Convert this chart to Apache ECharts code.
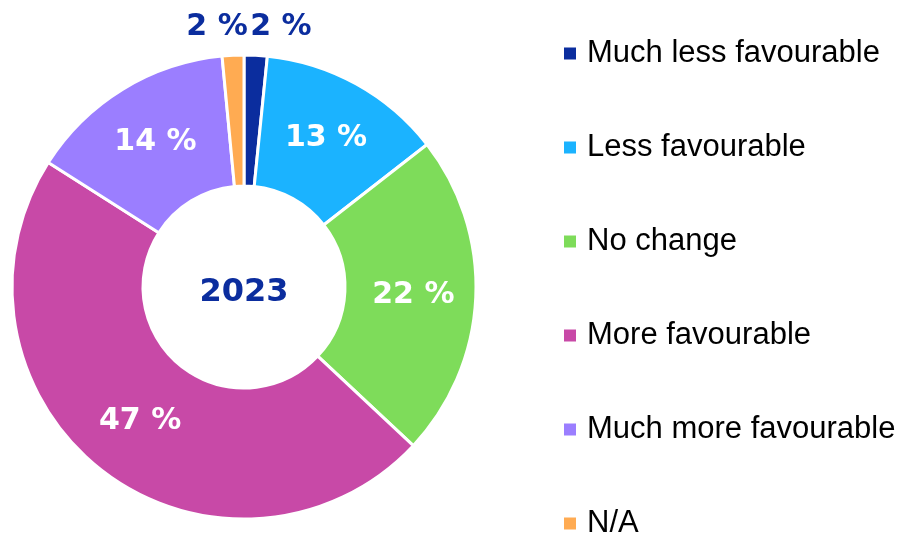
<!DOCTYPE html>
<html>
<head>
<meta charset="utf-8">
<script src="https://cdn.jsdelivr.net/npm/echarts@6/dist/echarts.min.js"></script>
<style>
  html, body { margin: 0; padding: 0; background: #fff; }
  #chart { width: 905px; height: 535px; }
</style>
</head>
<body>
<div id="chart"></div>
<script>
// 分类与数值（百分比，读自图）
const categories = ['Much less favourable', 'Less favourable', 'No change', 'More favourable', 'Much more favourable', 'N/A'];
const values = [1.6, 12.8, 22.4, 46.8, 14.4, 1.5];
const colors = ['#0b2d9e', '#1bb3ff', '#7edc5a', '#c849a7', '#9b7eff', '#ffab52'];
const yearLabel = '2023';

const darkBlue = '#0b2d9e';

// 小扇区的标签放在外面
const smallIdx = [0, 5];
// 外部标签的水平微调（让两个 "2 %" 挨在一起）
const outsideShift = { 0: -12, 5: 21 };

const seriesData = categories.map((name, i) => {
  const item = { name: name, value: values[i], itemStyle: { color: colors[i] } };
  if (smallIdx.includes(i)) {
    item.label = { position: 'outside', color: darkBlue };
    item.labelLine = { show: false, length: 28, length2: 0 };
  }
  return item;
});

const myChart = echarts.init(document.getElementById('chart'));
const option = {
  animation: false,
  title: {
    text: yearLabel,
    left: 244,
    top: 277,
    textAlign: 'center',
    padding: 0,
    textStyle: { fontFamily: 'DejaVu Sans', fontWeight: 'bold', fontSize: 32, color: darkBlue }
  },
  legend: {
    orient: 'vertical',
    left: 562,
    top: 38,
    height: 505,
    padding: 0,
    itemWidth: 14,
    itemHeight: 14,
    itemGap: 63,
    icon: 'rect',
    textStyle: { fontFamily: 'Liberation Sans', fontSize: 31, color: '#000', padding: [0, 0, 0, 5] },
    data: categories
  },
  series: [
    {
      type: 'pie',
      center: [244, 287],
      radius: [101, 232],
      startAngle: 90,
      clockwise: true,
      avoidLabelOverlap: false,
      itemStyle: { borderColor: '#fff', borderWidth: 3 },
      label: {
        show: true,
        position: 'inside',
        color: '#fff',
        fontFamily: 'DejaVu Sans',
        fontWeight: 'bold',
        fontSize: 30,
        formatter: p => Math.round(p.value) + ' %'
      },
      labelLine: { show: false },
      labelLayout: params => (params.dataIndex in outsideShift ? { dx: outsideShift[params.dataIndex] } : {}),
      data: seriesData
    }
  ]
};
myChart.setOption(option);
</script>
</body>
</html>
